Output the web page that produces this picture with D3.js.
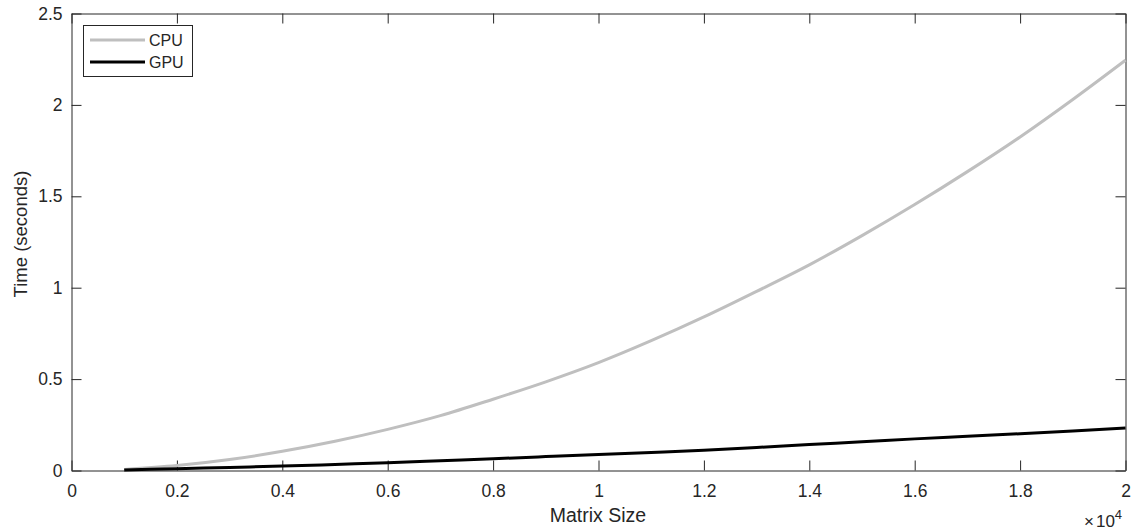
<!DOCTYPE html>
<html>
<head>
<meta charset="utf-8">
<script src="https://cdn.jsdelivr.net/npm/d3@7"></script>
<style>
  body { margin: 0; background: #fff; }
  text { font-family: "Liberation Sans", Arial, sans-serif; fill: #262626; }
</style>
</head>
<body>
<svg id="chart-svg" width="1132" height="532"></svg>
<script>
// matrix size
const sizes = [1000, 2000, 3000, 4000, 5000, 6000, 7000, 8000, 9000, 10000,
               11000, 12000, 13000, 14000, 15000, 16000, 17000, 18000, 19000, 20000];
// time in seconds
const cpuTimes = [0.006, 0.027, 0.06, 0.105, 0.16, 0.225, 0.30, 0.39, 0.485, 0.59,
                  0.71, 0.84, 0.98, 1.125, 1.285, 1.455, 1.635, 1.825, 2.03, 2.245];
const gpuTimes = [0.003, 0.01, 0.017, 0.024, 0.033, 0.042, 0.053, 0.064, 0.076, 0.088,
                  0.099, 0.111, 0.126, 0.142, 0.157, 0.173, 0.187, 0.201, 0.216, 0.232];
const xTicks = [0, 2000, 4000, 6000, 8000, 10000, 12000, 14000, 16000, 18000, 20000];
const yTicks = [0, 0.5, 1, 1.5, 2, 2.5];
const seriesNames = ['CPU', 'GPU'];

const svg = d3.select('#chart-svg');
const plotLeft = 71.5, plotRight = 1125.5, plotTop = 13.5, plotBottom = 470.5;
const axisColor = '#262626';

let xScale = d3.scaleLinear().domain([0, 20000]).range([plotLeft, plotRight]);
let yScale = d3.scaleLinear().domain([0, 2.5]).range([plotBottom, plotTop]);

const fmtX = d => String(+(d / 10000).toFixed(1));

// bottom axis with inward ticks
const xAxisGroup = svg.append('g').attr('transform', `translate(0,${plotBottom})`);
xAxisGroup.call(d3.axisBottom(xScale).tickValues(xTicks).tickFormat(fmtX)
    .tickSizeInner(-10).tickSizeOuter(0).tickPadding(14));
// top ticks (box on)
const xTopGroup = svg.append('g').attr('transform', `translate(0,${plotTop})`);
xTopGroup.call(d3.axisTop(xScale).tickValues(xTicks).tickFormat('')
    .tickSizeInner(-10).tickSizeOuter(0));

const yAxisGroup = svg.append('g').attr('transform', `translate(${plotLeft},0)`);
yAxisGroup.call(d3.axisLeft(yScale).tickValues(yTicks).tickFormat(d => String(d))
    .tickSizeInner(-10).tickSizeOuter(0).tickPadding(9));
const yRightGroup = svg.append('g').attr('transform', `translate(${plotRight},0)`);
yRightGroup.call(d3.axisRight(yScale).tickValues(yTicks).tickFormat('')
    .tickSizeInner(-10).tickSizeOuter(0));

svg.selectAll('.domain, .tick line').attr('stroke', axisColor).attr('stroke-width', 1);
svg.selectAll('.tick text').attr('fill', axisColor).style('font-size', '17.5px')
    .style('font-family', '"Liberation Sans", Arial, sans-serif');

// lines
let lineGenerator = d3.line()
    .x((d, i) => xScale(sizes[i]))
    .y(d => yScale(d))
    .curve(d3.curveMonotoneX);

svg.append('path').attr('d', lineGenerator(cpuTimes))
    .attr('fill', 'none').attr('stroke', '#bfbfbf').attr('stroke-width', 3);
svg.append('path').attr('d', lineGenerator(gpuTimes))
    .attr('fill', 'none').attr('stroke', '#000').attr('stroke-width', 3);

// axis labels
svg.append('text').attr('x', 598).attr('y', 522)
    .attr('text-anchor', 'middle').style('font-size', '19.5px').text('Matrix Size');
svg.append('text').attr('transform', 'translate(27,234) rotate(-90)')
    .attr('text-anchor', 'middle').style('font-size', '18.5px').text('Time (seconds)');

// exponent label
const expo = svg.append('text').attr('x', 1084).attr('y', 527).style('font-size', '17px');
expo.append('tspan').text('\u00d7');
expo.append('tspan').attr('dx', 2).text('10');
expo.append('tspan').attr('dy', -8).style('font-size', '13px').text('4');

// legend
const legend = svg.append('g');
legend.append('rect').attr('x', 83.5).attr('y', 25.5).attr('width', 109).attr('height', 51)
    .attr('fill', '#fff').attr('stroke', axisColor).attr('stroke-width', 1);
const legendColors = ['#bfbfbf', '#000'];
seriesNames.forEach((name, i) => {
  const y = 40 + i * 22;
  legend.append('line').attr('x1', 90).attr('x2', 145).attr('y1', y).attr('y2', y)
      .attr('stroke', legendColors[i]).attr('stroke-width', 3);
  legend.append('text').attr('x', 149).attr('y', y + 6).style('font-size', '16px').text(name);
});
</script>
</body>
</html>
